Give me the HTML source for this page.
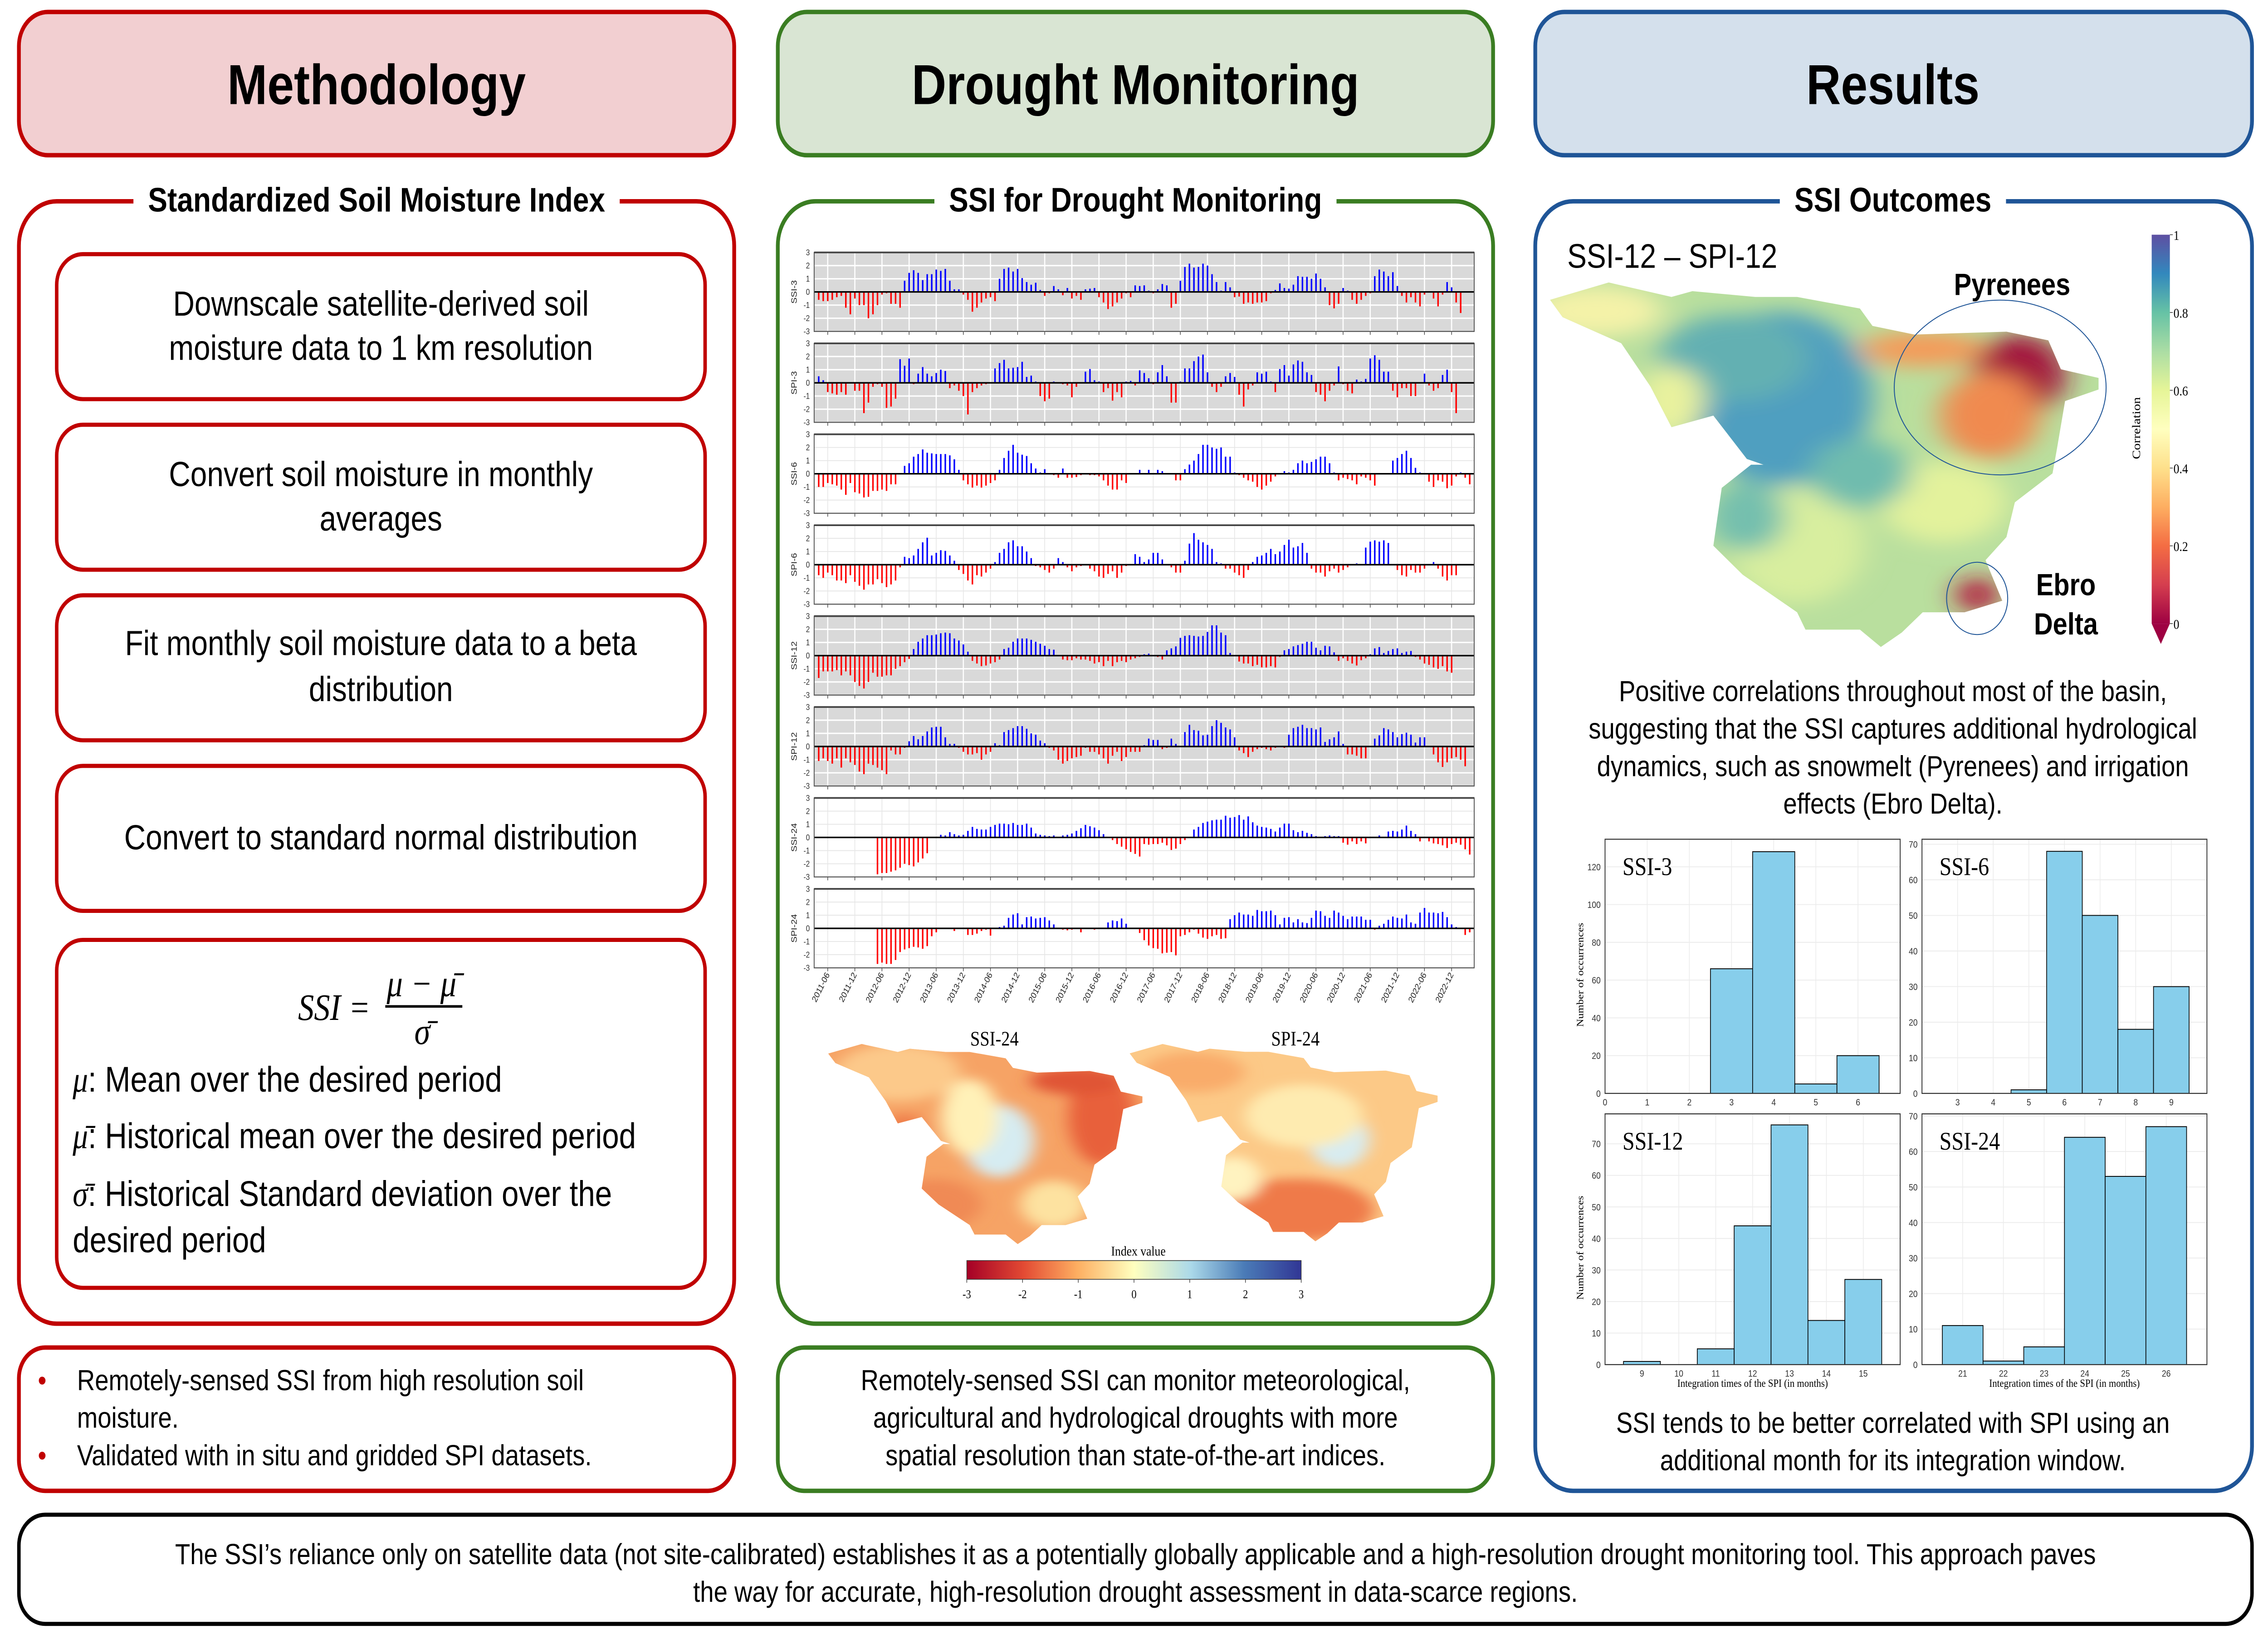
<!DOCTYPE html>
<html><head><meta charset="utf-8">
<style>
html,body{margin:0;padding:0;background:#fff;width:100%;height:100%;overflow:hidden;}
#page{position:absolute;left:0;top:0;width:100vw;height:100vh;display:block;}
svg text{font-family:"Liberation Sans",sans-serif;}
.serif{font-family:"Liberation Serif",serif !important;}
</style></head>
<body>
<svg id="page" viewBox="0 0 1560 955" preserveAspectRatio="none">
<defs>
<clipPath id="basinR"><path d="M10,300 L150,240 L240,270 L300,290 L350,270 L500,290 L600,290 L750,330 L780,390 L880,420 L1100,410 L1200,440 L1230,540 L1320,570 L1320,610 L1240,650 L1220,820 L1210,900 L1120,1000 L1100,1120 L1050,1200 L1090,1340 L1000,1380 L900,1380 L850,1450 L800,1500 L750,1440 L620,1440 L600,1380 L470,1250 L400,1150 L420,950 L490,870 L520,870 L480,850 L400,700 L300,740 L250,600 L180,450 L40,360 Z"/></clipPath>
<filter id="blur" x="-20%" y="-20%" width="140%" height="140%"><feGaussianBlur stdDeviation="35"/></filter>
<linearGradient id="corrbar" x1="0" y1="1" x2="0" y2="0">
<stop offset="0" stop-color="#9e0142"/><stop offset="0.1" stop-color="#d53e4f"/><stop offset="0.2" stop-color="#f46d43"/><stop offset="0.3" stop-color="#fdae61"/><stop offset="0.4" stop-color="#fee08b"/><stop offset="0.5" stop-color="#ffffbf"/><stop offset="0.6" stop-color="#e6f598"/><stop offset="0.7" stop-color="#abdda4"/><stop offset="0.8" stop-color="#66c2a5"/><stop offset="0.9" stop-color="#3288bd"/><stop offset="1" stop-color="#5e4fa2"/></linearGradient>
<linearGradient id="idxbar" x1="0" y1="0" x2="1" y2="0">
<stop offset="0" stop-color="#a50026"/><stop offset="0.17" stop-color="#e34a33"/><stop offset="0.33" stop-color="#fdae61"/><stop offset="0.5" stop-color="#ffffbf"/><stop offset="0.67" stop-color="#abd9e9"/><stop offset="0.83" stop-color="#4a7bb7"/><stop offset="1" stop-color="#313695"/></linearGradient>
</defs>
<rect x="0" y="0" width="1560" height="955" fill="#fff"/>
<!-- headers -->
<rect x="13" y="7" width="492" height="84" rx="20" fill="#f2cfd1" stroke="#c00000" stroke-width="2.6"/>
<text x="259" y="61" font-size="33" font-weight="bold" text-anchor="middle">Methodology</text>
<rect x="535" y="7" width="492" height="84" rx="20" fill="#d9e5d3" stroke="#3a7d22" stroke-width="2.6"/>
<text x="781" y="61" font-size="33" font-weight="bold" text-anchor="middle">Drought Monitoring</text>
<rect x="1056" y="7" width="493" height="84" rx="20" fill="#d4e0ec" stroke="#1f5597" stroke-width="2.6"/>
<text x="1302" y="61" font-size="33" font-weight="bold" text-anchor="middle">Results</text>
<!-- sections -->
<rect x="13" y="118" width="492" height="658" rx="26" fill="none" stroke="#c00000" stroke-width="2.6"/>
<rect x="535" y="118" width="492" height="658" rx="26" fill="none" stroke="#3a7d22" stroke-width="2.6"/>
<rect x="1056" y="118" width="493" height="756" rx="26" fill="none" stroke="#1f5597" stroke-width="2.6"/>
<g id="titles">
<rect class="tbg" fill="#fff"/><text x="259" y="124" font-size="20" font-weight="bold" text-anchor="middle">Standardized Soil Moisture Index</text>
<rect class="tbg" fill="#fff"/><text x="781" y="124" font-size="20" font-weight="bold" text-anchor="middle">SSI for Drought Monitoring</text>
<rect class="tbg" fill="#fff"/><text x="1302" y="124" font-size="20" font-weight="bold" text-anchor="middle">SSI Outcomes</text>
</g>
<!-- method steps -->
<g font-size="20.5" text-anchor="middle">
<rect x="39" y="149" width="446" height="85" rx="18" fill="none" stroke="#c00000" stroke-width="2.4"/>
<text x="262" y="185">Downscale satellite-derived soil</text><text x="262" y="211">moisture data to 1 km resolution</text>
<rect x="39" y="249" width="446" height="85" rx="18" fill="none" stroke="#c00000" stroke-width="2.4"/>
<text x="262" y="285">Convert soil moisture in monthly</text><text x="262" y="311">averages</text>
<rect x="39" y="349" width="446" height="85" rx="18" fill="none" stroke="#c00000" stroke-width="2.4"/>
<text x="262" y="384">Fit monthly soil moisture data to a beta</text><text x="262" y="411">distribution</text>
<rect x="39" y="449" width="446" height="85" rx="18" fill="none" stroke="#c00000" stroke-width="2.4"/>
<text x="262" y="498">Convert to standard normal distribution</text>
<rect x="39" y="551" width="446" height="204" rx="18" fill="none" stroke="#c00000" stroke-width="2.4"/>
</g>
<g class="serif" font-style="italic" font-size="22">
<text class="serif" x="205" y="598">SSI =</text>
<text class="serif" x="266" y="584">μ − μ̄</text>
<line x1="265" x2="318" y1="590" y2="590" stroke="#000" stroke-width="1.5"/>
<text class="serif" x="285" y="612">σ̄</text>
</g>
<g font-size="21">
<text x="50" y="640"><tspan class="serif" font-style="italic">μ</tspan>: Mean over the desired period</text>
<text x="50" y="673"><tspan class="serif" font-style="italic">μ̄</tspan>: Historical mean over the desired period</text>
<text x="50" y="707"><tspan class="serif" font-style="italic">σ̄</tspan>: Historical Standard deviation over the</text>
<text x="50" y="734">desired period</text>
</g>
<!-- bottom boxes -->
<rect x="13" y="790" width="492" height="84" rx="18" fill="none" stroke="#c00000" stroke-width="2.6"/>
<g font-size="17">
<text x="26" y="815" fill="#c00000">•</text><text x="53" y="815">Remotely-sensed SSI from high resolution soil</text>
<text x="53" y="837">moisture.</text>
<text x="26" y="859" fill="#c00000">•</text><text x="53" y="859">Validated with in situ and gridded SPI datasets.</text>
</g>
<rect x="535" y="790" width="492" height="84" rx="18" fill="none" stroke="#3a7d22" stroke-width="2.6"/>
<g font-size="17" text-anchor="middle">
<text x="781" y="815">Remotely-sensed SSI can monitor meteorological,</text>
<text x="781" y="837">agricultural and hydrological droughts with more</text>
<text x="781" y="859">spatial resolution than state-of-the-art indices.</text>
</g>
<g font-size="17" text-anchor="middle">
<text x="1302" y="411">Positive correlations throughout most of the basin,</text>
<text x="1302" y="433">suggesting that the SSI captures additional hydrological</text>
<text x="1302" y="455">dynamics, such as snowmelt (Pyrenees) and irrigation</text>
<text x="1302" y="477">effects (Ebro Delta).</text>
</g>
<g font-size="17" text-anchor="middle">
<text x="1302" y="840">SSI tends to be better correlated with SPI using an</text>
<text x="1302" y="862">additional month for its integration window.</text>
</g>
<rect x="13" y="888" width="1536" height="64" rx="18" fill="none" stroke="#000" stroke-width="2.4"/>
<g font-size="17" text-anchor="middle">
<text x="781" y="917">The SSI’s reliance only on satellite data (not site-calibrated) establishes it as a potentially globally applicable and a high-resolution drought monitoring tool. This approach paves</text>
<text x="781" y="939">the way for accurate, high-resolution drought assessment in data-scarce regions.</text>
</g>

<g id="ts"></g>
<!-- maps -->
<g transform="translate(568,589.7) scale(0.165,0.0931)">
<g clip-path="url(#basinR)"><rect x="0" y="200" width="1400" height="1400" fill="#f6a365"/>
<g filter="url(#blur)"><ellipse cx="300" cy="420" rx="260" ry="180" fill="#fcc98a"/><ellipse cx="720" cy="850" rx="150" ry="230" fill="#d6ecf2"/><ellipse cx="600" cy="700" rx="120" ry="240" fill="#fff1b8"/><ellipse cx="1150" cy="700" rx="140" ry="300" fill="#e8603a"/><ellipse cx="1050" cy="470" rx="200" ry="90" fill="#e05535"/><ellipse cx="450" cy="1250" rx="200" ry="160" fill="#f08a55"/><ellipse cx="950" cy="1250" rx="140" ry="150" fill="#fde2a0"/><ellipse cx="330" cy="800" rx="90" ry="120" fill="#ef7d4a"/></g></g></g>
<g transform="translate(775.4,590) scale(0.1617,0.0918)">
<g clip-path="url(#basinR)"><rect x="0" y="200" width="1400" height="1400" fill="#fcc987"/>
<g filter="url(#blur)"><ellipse cx="900" cy="850" rx="130" ry="180" fill="#d8ecf0"/><ellipse cx="750" cy="700" rx="250" ry="200" fill="#feebb0"/><ellipse cx="280" cy="420" rx="220" ry="130" fill="#f9ac6b"/><ellipse cx="720" cy="1300" rx="330" ry="200" fill="#ef7a48"/><ellipse cx="450" cy="1100" rx="120" ry="140" fill="#fff3c0"/></g></g></g>
<text class="serif" x="684" y="613" font-size="12" text-anchor="middle">SSI-24</text>
<text class="serif" x="891" y="613" font-size="12" text-anchor="middle">SPI-24</text>
<text class="serif" x="783" y="736" font-size="8" text-anchor="middle">Index value</text>
<rect x="665" y="739" width="230" height="11" fill="url(#idxbar)" stroke="#333" stroke-width="0.4"/>
<g id="idxticks"></g>
<!-- correlation map -->
<g transform="translate(1063.3,124.9) scale(0.288,0.1696)">
<g clip-path="url(#basinR)"><rect x="0" y="200" width="1400" height="1400" fill="#b9df9e"/>
<g filter="url(#blur)"><ellipse cx="120" cy="340" rx="160" ry="90" fill="#f4f2a8"/><ellipse cx="560" cy="640" rx="220" ry="300" fill="#4f9fc0"/><ellipse cx="450" cy="500" rx="180" ry="150" fill="#63b0b2"/><ellipse cx="300" cy="650" rx="80" ry="120" fill="#e9f29e"/><ellipse cx="1130" cy="560" rx="110" ry="140" fill="#a3123e"/><ellipse cx="1060" cy="700" rx="120" ry="150" fill="#f08a4f"/><ellipse cx="900" cy="470" rx="150" ry="60" fill="#f59a58"/><ellipse cx="950" cy="1000" rx="150" ry="140" fill="#e3f29c"/><ellipse cx="1030" cy="1320" rx="50" ry="60" fill="#b2183e"/><ellipse cx="600" cy="1150" rx="160" ry="200" fill="#d8ee9f"/><ellipse cx="480" cy="1050" rx="90" ry="120" fill="#75bfae"/><ellipse cx="750" cy="900" rx="120" ry="120" fill="#6fbcae"/></g></g>
<ellipse cx="1085" cy="603" rx="253" ry="302" fill="none" stroke="#1f5597" stroke-width="2" vector-effect="non-scaling-stroke"/>
<ellipse cx="1030" cy="1332" rx="73" ry="125" fill="none" stroke="#1f5597" stroke-width="2" vector-effect="non-scaling-stroke"/>
</g>
<text x="1078" y="157" font-size="20">SSI-12 – SPI-12</text>
<text x="1384" y="173" font-size="18" font-weight="bold" text-anchor="middle">Pyrenees</text>
<text x="1421" y="349" font-size="18" font-weight="bold" text-anchor="middle">Ebro</text>
<text x="1421" y="372" font-size="18" font-weight="bold" text-anchor="middle">Delta</text>
<rect x="1480" y="137.6" width="12.5" height="228" fill="url(#corrbar)"/>
<polygon points="1480,365.6 1492.5,365.6 1486.3,377.5" fill="#9e0142"/>
<g id="corrticks"></g>
<text class="serif" transform="translate(1472,251) rotate(-90)" font-size="8" text-anchor="middle">Correlation</text>
<g id="hists"></g>
</svg>
<script>
// ---- time series data (monthly, starting 2011-04) ----
const panelNames = ["SSI-3","SPI-3","SSI-6","SPI-6","SSI-12","SPI-12","SSI-24","SPI-24"];
const ssi3 = [-0.6,-0.7,-0.7,-0.6,-0.4,-0.3,-1.2,-1.7,-0.5,-1.0,-1.0,-2.0,-1.7,-1.0,-0.2,-0.1,-0.9,-0.9,-1.2,0.85,1.45,1.65,1.45,0.9,1.35,1.35,1.7,1.6,1.75,0.85,0.2,0.2,-0.2,-0.6,-1.5,-1.2,-0.8,-0.5,-0.4,-0.7,1.0,1.75,1.85,1.55,1.75,1.05,0.75,0.55,0.7,0.15,-0.3,-0.1,0.45,0.2,-0.25,0.3,-0.5,-0.3,-0.6,0.2,0.25,0.3,-0.4,-0.8,-1.3,-1.1,-0.8,-0.5,-0.1,-0.4,0.5,0.45,0.5,0.1,-0.1,0.2,0.6,0.5,-1.2,-0.9,0.85,1.9,2.15,1.85,1.9,2.15,2.0,1.35,0.75,0.1,0.75,0.35,-0.4,-0.35,-0.9,-0.8,-0.9,-0.8,-0.8,-0.7,-0.1,0.15,0.65,0.3,0.25,0.55,1.2,1.15,1.15,1.0,1.4,1.0,0.35,-1.0,-1.25,-0.9,0.3,0.1,-0.6,-0.9,-0.6,-0.3,-0.1,1.2,1.7,1.55,1.2,1.5,0.45,-0.3,-0.8,-0.4,-0.8,-1.1,-0.2,0,-0.5,-1.1,-0.2,0.75,0.35,-0.8,-1.6];
const spi3 = [0.5,0.2,-0.7,-0.8,-0.9,-0.7,-0.9,0,-0.6,-0.6,-2.3,-1.5,-0.3,-0.1,-0.3,-1.9,-1.8,-1.2,1.8,1.3,1.85,-0.1,0.7,1.2,0.7,0.5,0.75,1.0,0.9,-0.4,-0.2,-0.6,-1.0,-2.4,-0.7,-0.4,-0.2,-0.1,0,1.1,1.5,1.75,1.1,1.15,1.2,1.6,0.45,0.55,0.1,-1.0,-1.4,-1.2,0.1,0,-0.1,-0.2,-1.1,-0.3,0,0.85,1.05,0.2,0.1,-0.7,-0.4,-1.35,-0.7,-1.1,0.1,0.15,-0.2,0.95,0.75,0.35,-0.1,0.8,1.35,0.5,-1.5,-1.5,0.1,1.1,1.1,1.65,2.0,2.15,0.8,-0.3,-0.7,-0.3,0.5,0.75,0.45,-0.9,-1.8,-0.5,-0.2,0.8,0.7,0.85,0.1,-0.7,1.05,1.35,0.55,1.4,1.7,1.6,0.8,0.6,-0.7,-0.9,-1.4,-0.6,-0.2,1.25,-0.1,-0.6,-0.8,0.25,0.1,0.3,1.85,2.1,1.75,0.85,0.85,-0.6,-1.1,-0.4,-0.4,-1.0,-1.0,0,0.7,-0.2,-0.6,-0.4,0.6,1.0,-0.7,-2.3];
const ssi6 = [-1.0,-1.0,-0.7,-0.8,-0.9,-1.2,-1.6,-0.7,-1.4,-1.5,-1.8,-1.75,-1.3,-1.3,-1.2,-1.3,-0.8,-0.8,-0.05,0.6,0.8,1.3,1.5,1.85,1.6,1.55,1.5,1.5,1.5,1.4,1.1,0.3,-0.5,-0.8,-1.05,-0.9,-1.05,-0.9,-0.7,-0.5,0.3,1.2,1.75,2.2,1.6,1.45,1.35,0.8,0.4,0.1,0.35,0.05,-0.1,-0.3,0.4,-0.3,-0.3,-0.25,-0.1,0,-0.1,-0.1,-0.2,-0.5,-0.9,-1.2,-1.2,-0.5,-0.7,0,0,0.3,0.05,0.3,0,0.3,0.2,0,0,-0.5,-0.5,0.35,0.7,1.0,1.5,2.2,2.2,2.0,1.9,2.0,1.3,1.3,0.1,-0.1,-0.3,-0.5,-0.6,-1.0,-1.2,-0.9,-0.6,-0.2,0,0.2,0.1,0.3,0.8,1.0,0.8,0.9,1.1,1.3,1.3,0.8,0.1,-0.5,-0.3,-0.4,-0.5,-0.8,-0.2,-0.3,-0.5,-0.9,0,0,0,1.0,1.2,1.5,1.75,1.2,0.45,0.1,0,-0.6,-1.0,-0.5,-0.6,-1.1,-0.9,-0.2,0.1,-0.3,-0.8,-0.7];
const spi6 = [-0.8,-1.0,-0.6,-0.8,-1.2,-1.2,-1.4,-0.8,-1.3,-1.6,-1.9,-1.5,-1.5,-1.1,-1.4,-1.7,-1.5,-1.2,-0.2,0.6,0.5,0.7,1.2,1.7,2.05,0.7,0.9,1.1,1.05,0.7,0.3,-0.4,-0.7,-1.2,-1.5,-0.8,-0.9,-0.6,-0.3,0.2,0.9,1.2,1.7,1.85,1.4,1.4,1.0,0.5,-0.1,-0.2,-0.4,-0.6,-0.3,0.5,0.2,-0.2,-0.5,-0.2,-0.1,0,-0.3,-0.5,-0.9,-1.0,-0.7,-0.5,-1.0,-0.6,-0.1,0,0.8,0.6,0.2,0.4,0.9,0.9,0.4,0,-0.2,-0.6,-0.6,0.3,1.6,2.4,1.9,1.7,1.5,1.2,0.2,0.1,-0.3,-0.3,-0.6,-0.8,-1.0,-0.4,0.2,0.6,0.7,0.9,1.2,0.8,1.0,1.5,1.9,1.3,1.4,1.65,0.9,-0.3,-0.6,-0.6,-0.9,-0.5,-0.3,-0.6,-0.4,-0.2,0,0.1,0,1.3,1.75,1.85,1.75,1.85,1.65,0,-0.4,-0.8,-0.9,-0.4,-0.6,-0.6,-0.3,0,0.2,-0.3,-0.9,-1.2,-0.8,-0.8];
const ssi12 = [-1.7,-1.2,-1.2,-1.2,-1.1,-1.5,-1.2,-1.5,-2.0,-2.3,-2.5,-2.0,-1.3,-1.6,-1.6,-1.5,-1.5,-1.0,-0.8,-0.5,-0.25,0.5,1.05,1.3,1.55,1.55,1.6,1.7,1.75,1.7,1.3,1.15,0.85,0.3,-0.4,-0.6,-0.8,-0.75,-0.6,-0.5,-0.3,0.5,0.6,1.05,1.3,1.3,1.3,1.2,1.05,0.9,0.75,0.5,0.45,-0.05,-0.3,-0.35,-0.35,-0.2,-0.3,-0.3,-0.4,-0.6,-0.5,-0.8,-0.4,-0.8,-0.5,-0.4,-0.5,-0.3,-0.2,-0.1,0.1,0.15,0,-0.1,-0.3,0.4,0.55,0.7,1.35,1.5,1.55,1.5,1.45,1.5,1.8,2.3,2.3,1.75,1.55,0.2,0,-0.45,-0.6,-0.6,-0.8,-0.7,-0.9,-0.9,-0.8,-0.9,-0.1,0.4,0.5,0.7,0.8,0.9,1.05,1.05,0.6,0.4,0.75,0.7,0.25,-0.4,-0.2,-0.4,-0.6,-0.75,-0.35,-0.2,0.1,0.55,0.65,0.2,0.35,0.5,0.55,0.2,0.3,0.35,-0.1,-0.3,-0.6,-0.7,-0.9,-1.0,-0.8,-1.2,-1.3];
const spi12 = [-1.1,-0.9,-1.1,-1.3,-0.9,-1.6,-0.9,-1.2,-1.4,-1.9,-2.1,-1.3,-1.4,-1.6,-1.8,-2.1,-0.3,-0.6,-0.6,-0.1,0.4,0.8,0.55,0.8,1.15,1.45,1.5,1.5,0.7,0.2,0.2,-0.1,-0.4,-0.6,-0.6,-0.5,-1.0,-0.6,-0.4,0.25,0.1,1.1,1.25,1.4,1.55,1.55,1.35,1.0,0.9,0.45,0.25,-0.1,-0.3,-1.0,-1.3,-1.1,-0.9,-0.8,-0.7,-0.1,-0.4,-0.4,-0.6,-0.9,-1.3,-0.7,-0.4,-1.1,-0.8,-0.4,-0.4,-0.4,0.1,0.6,0.5,0.5,-0.2,-0.1,0.6,0.2,0,1.1,1.65,1.25,1.2,0.85,0.9,1.55,2.0,1.8,1.45,1.3,0.7,-0.3,-0.5,-0.8,-0.4,-0.2,-0.1,-0.2,-0.3,-0.1,0,-0.1,0.9,1.4,1.5,1.65,1.4,1.4,1.3,1.45,0.35,0.55,0.7,1.15,0.2,-0.6,-0.6,-0.7,-0.9,-0.9,0,0.6,0.85,1.4,1.3,1.1,0.7,0.95,1.05,0.9,0.3,0.7,0.7,0,-0.6,-1.2,-1.55,-1.2,-0.9,-0.8,-1.0,-1.5];
const ssi24 = [0,0,0,0,0,0,0,0,0,0,0,0,0,-2.8,-2.7,-2.7,-2.6,-2.5,-2.3,-2.0,-2.1,-2.2,-1.9,-1.6,-1.2,0,0,0.2,0.15,0.4,0.25,0.15,0.2,0.5,0.8,0.65,0.6,0.6,0.8,0.95,1.05,1.05,1.0,1.1,0.95,0.95,1.05,0.75,0.3,0.2,0.15,0.1,0.15,0,0.15,0.2,0.3,0.5,0.7,0.95,0.85,0.75,0.55,0.25,0,-0.2,-0.5,-0.7,-0.9,-1.1,-1.25,-1.45,-0.5,-0.55,-0.5,-0.5,-0.4,-0.6,-0.95,-0.85,-0.5,-0.2,0,0.6,0.8,1.1,1.2,1.3,1.35,1.35,1.65,1.5,1.55,1.7,1.35,1.6,1.15,0.9,0.8,0.75,0.65,0.45,0.75,1.05,1.05,0.55,0.4,0.5,0.35,0.25,0.1,0.05,0.1,0.15,0.1,0.1,-0.4,-0.55,-0.3,-0.5,-0.3,-0.45,0,0,0.15,0.05,0.45,0.5,0.45,0.6,0.9,0.5,0.25,-0.3,0,-0.3,-0.45,-0.5,-0.6,-0.8,-0.5,-0.4,-0.55,-0.9,-1.3,-1.4];
const spi24 = [0,0,0,0,0,0,0,0,0,0,0,0,0,-2.7,-2.6,-2.7,-2.7,-2.4,-1.8,-1.6,-1.5,-1.4,-1.45,-1.55,-1.35,-0.6,-0.3,0,0,0,-0.2,0,0,-0.5,-0.5,-0.4,-0.2,-0.1,-0.55,0,0.1,0.2,0.8,1.05,1.15,0.3,0.85,0.9,0.75,0.8,0.85,0.6,0.3,0,-0.1,-0.15,-0.1,0,-0.3,0,0,-0.1,0,0,0.45,0.6,0.55,0.75,0.35,0,0,-0.35,-0.9,-1.3,-1.5,-1.55,-1.9,-1.85,-1.8,-2.05,-0.6,-0.5,-0.3,-0.1,-0.4,-0.7,-0.8,-0.6,-0.5,-0.8,-0.75,0.7,1.0,1.2,1.05,1.05,0.95,1.4,1.3,1.3,1.35,1.0,0.3,0.8,0.85,0.45,0.7,0.45,0.4,0.8,1.35,1.3,0.95,0.8,1.35,1.2,0.95,0.7,0.9,0.9,0.9,0.65,0.65,-0.1,0.2,0.35,0.65,0.9,0.8,0.75,1.05,0.45,0.35,1.2,1.55,1.2,1.2,1.15,1.25,0.85,0.3,0.1,0,-0.5,-0.3,-0.25,-0.15,-0.35,-0.1,-0.15,-0.1,-0.35,-0.45,-0.75];
const tickLabels = ["2011-06","2011-12","2012-06","2012-12","2013-06","2013-12","2014-06","2014-12","2015-06","2015-12","2016-06","2016-12","2017-06","2017-12","2018-06","2018-12","2019-06","2019-12","2020-06","2020-12","2021-06","2021-12","2022-06","2022-12"];
const yTicks = [-3,-2,-1,0,1,2,3];
// ---- histogram data ----
const histTitles = ["SSI-3","SSI-6","SSI-12","SSI-24"];
const h3Bins = [3,4,5,6];        const h3Counts = [66,128,5,20];
const h6Bins = [5,6,7,8,9];      const h6Counts = [1,68,50,18,30];
const h12Bins = [9,10,11,12,13,14,15]; const h12Counts = [1,0,5,44,76,14,27];
const h24Bins = [21,22,23,24,25,26];   const h24Counts = [11,1,5,64,53,67];
const h3Ticks = [0,1,2,3,4,5,6]; const h3Y = [0,20,40,60,80,100,120];
const h6Ticks = [3,4,5,6,7,8,9]; const h6Y = [0,10,20,30,40,50,60,70];
const h12Ticks = [9,10,11,12,13,14,15]; const h12Y = [0,10,20,30,40,50,60,70];
const h24Ticks = [21,22,23,24,25,26]; const h24Y = [0,10,20,30,40,50,60,70];
const corrTicks = [0,0.2,0.4,0.6,0.8,1];
const idxTicks = [-3,-2,-1,0,1,2,3];

const NS = "http://www.w3.org/2000/svg";
function mk(tag, attrs, parent){const e=document.createElementNS(NS,tag);for(const k in attrs)e.setAttribute(k,attrs[k]);if(parent)parent.appendChild(e);return e;}

// title backgrounds
(function(){
  const rs=document.querySelectorAll('#titles .tbg');
  const ts=document.querySelectorAll('#titles text');
  ts.forEach((t,i)=>{const b=t.getBBox();const r=rs[i];
    r.setAttribute('x',b.x-10);r.setAttribute('y',b.y);r.setAttribute('width',b.width+20);r.setAttribute('height',b.height);});
})();

// ---- time series ----
(function(){
  const g=document.getElementById('ts');
  const series=[ssi3,spi3,ssi6,spi6,ssi12,spi12,ssi24,spi24];
  const gray=[true,true,false,false,true,true,false,false];
  const L=560,R=1014,M=146,H=46.3,pitch=53.3,top0=148;
  const xs=m=>L+(m/M)*(R-L);
  series.forEach((s,p)=>{
    const T=top0+p*pitch;
    const ys=v=>T+H/2-v*(H/6);
    const pg=mk('g',{},g);
    
    
    mk('rect',{x:L,y:T,width:R-L,height:H,fill:gray[p]?'#d9d9d9':'#fff'},pg);
    const gc=gray[p]?'#fff':'#e6e6e6', gw=gray[p]?0.8:0.5;
    tickLabels.forEach((t,k)=>{const x=xs(3+6*k);mk('line',{x1:x,x2:x,y1:T,y2:T+H,stroke:gc,'stroke-width':gw},pg);mk('line',{x1:x,x2:x,y1:T+H,y2:T+H+2,stroke:'#333','stroke-width':0.4},pg);});
    yTicks.forEach(v=>{const y=ys(v);if(v!==0&&Math.abs(v)<3)mk('line',{x1:L,x2:R,y1:y,y2:y,stroke:gc,'stroke-width':gw},pg);
      const tx=mk('text',{x:L-3,y:y+1.7,'font-size':4.8,'text-anchor':'end',fill:'#333'},pg);tx.textContent=String(v);});
    s.forEach((v,i)=>{
      if(i+1>=M) return;
      const x=xs(i+1)-0.5;const y0=ys(0),y1=ys(v);
      const b=mk('rect',{x:x,y:Math.min(y0,y1),width:1.05,height:Math.abs(y1-y0),fill:v>=0?'#0000ff':'#ff0000'},pg);
      
      
    });
    mk('line',{x1:L,x2:R,y1:ys(0),y2:ys(0),stroke:'#000','stroke-width':0.9},pg);
    mk('rect',{x:L,y:T,width:R-L,height:H,fill:'none',stroke:'#555','stroke-width':0.6},pg);
    mk('line',{x1:L,x2:R,y1:T,y2:T,stroke:'#444','stroke-width':1},pg);
    const yl=mk('text',{transform:`translate(${L-12},${T+H/2}) rotate(-90)`,'font-size':5.5,'text-anchor':'middle',fill:'#222'},pg);
    yl.textContent=panelNames[p];
  });
  const T=top0+7*pitch+H;
  tickLabels.forEach((t,k)=>{const x=xs(3+6*k);
    const tx=mk('text',{transform:`translate(${x+1.5},${T+4}) rotate(-60)`,'font-size':5.3,'text-anchor':'end',fill:'#222'},g);
    
    
    tx.textContent=t;});
})();

// ---- colorbar ticks ----
(function(){
  const g=document.getElementById('idxticks');
  idxTicks.forEach(v=>{const x=665+(v+3)/6*230;mk('line',{x1:x,x2:x,y1:750,y2:752,stroke:'#333','stroke-width':0.4},g);
    const t=mk('text',{x:x,y:761,'font-size':7,'text-anchor':'middle','class':'serif'},g);t.textContent=String(v);});
  const c=document.getElementById('corrticks');
  corrTicks.forEach(v=>{const y=365.6-v*228;mk('line',{x1:1492.5,x2:1494.5,y1:y,y2:y,stroke:'#333','stroke-width':0.4},c);
    const t=mk('text',{x:1495,y:y+3,'font-size':8,'class':'serif'},c);t.textContent=String(v);});
})();

// ---- histograms ----
(function(){
  const g=document.getElementById('hists');
  const cfg=[
    {bins:h3Bins,counts:h3Counts,ticks:h3Ticks,yt:h3Y,x0:1104,y0:492,w:203,h:149,xd:[0,7],yd:[0,134.6],xlab:false,ylab:true},
    {bins:h6Bins,counts:h6Counts,ticks:h6Ticks,yt:h6Y,x0:1322,y0:492,w:196,h:149,xd:[2,10],yd:[0,71.4],xlab:false,ylab:false},
    {bins:h12Bins,counts:h12Counts,ticks:h12Ticks,yt:h12Y,x0:1104,y0:653,w:203,h:147,xd:[8,16],yd:[0,79.5],xlab:true,ylab:true},
    {bins:h24Bins,counts:h24Counts,ticks:h24Ticks,yt:h24Y,x0:1322,y0:653,w:196,h:147,xd:[20,27],yd:[0,70.6],xlab:true,ylab:false}];
  cfg.forEach((c,k)=>{
    const pg=mk('g',{},g);
    
    
    const xs=v=>c.x0+(v-c.xd[0])/(c.xd[1]-c.xd[0])*c.w;
    const ys=v=>c.y0+c.h-(v-c.yd[0])/(c.yd[1]-c.yd[0])*c.h;
    mk('rect',{x:c.x0,y:c.y0,width:c.w,height:c.h,fill:'#fff'},pg);
    c.ticks.forEach(t=>{const x=xs(t);mk('line',{x1:x,x2:x,y1:c.y0,y2:c.y0+c.h,stroke:'#ececec','stroke-width':0.5},pg);
      const tx=mk('text',{x:x,y:c.y0+c.h+7,'font-size':5.5,'text-anchor':'middle',fill:'#333'},pg);tx.textContent=String(t);});
    c.yt.forEach(t=>{const y=ys(t);mk('line',{x1:c.x0,x2:c.x0+c.w,y1:y,y2:y,stroke:'#ececec','stroke-width':0.5},pg);
      const tx=mk('text',{x:c.x0-3,y:y+2,'font-size':5.5,'text-anchor':'end',fill:'#333'},pg);tx.textContent=String(t);});
    c.bins.forEach((b,i)=>{const v=c.counts[i];
      const r=mk('rect',{x:xs(b-0.5),y:ys(v),width:xs(b+0.5)-xs(b-0.5),height:ys(0)-ys(v),fill:'#87ceeb',stroke:'#000','stroke-width':0.5},pg);
      
      });
    mk('rect',{x:c.x0,y:c.y0,width:c.w,height:c.h,fill:'none',stroke:'#333','stroke-width':0.6},pg);
    const tt=mk('text',{x:c.x0+12,y:c.y0+21,'font-size':15,'class':'serif'},pg);tt.textContent=histTitles[k];
    if(c.ylab){const yl=mk('text',{transform:`translate(${c.x0-15},${c.y0+c.h/2+5}) rotate(-90)`,'font-size':6.5,'text-anchor':'middle','class':'serif'},pg);yl.textContent='Number of occurrences';}
    if(c.xlab){const xl=mk('text',{x:c.x0+c.w/2,y:c.y0+c.h+13,'font-size':6.5,'text-anchor':'middle','class':'serif'},pg);xl.textContent='Integration times of the SPI (in months)';}
  });
})();
</script>
</body></html>
